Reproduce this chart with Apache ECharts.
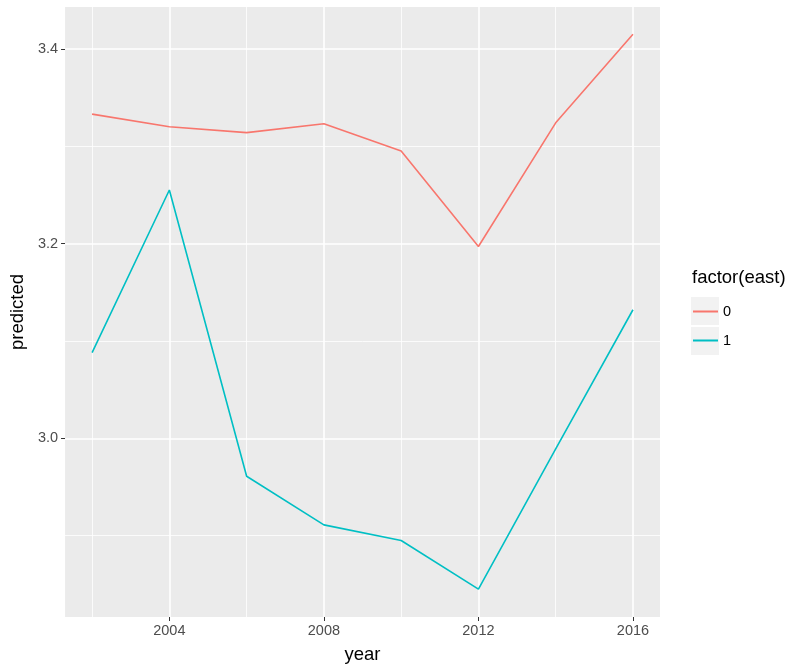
<!DOCTYPE html>
<html><head><meta charset="utf-8">
<script src="https://cdn.jsdelivr.net/npm/echarts@6/dist/echarts.min.js"></script>
<style>html,body{margin:0;padding:0;background:#fff}#c{width:802px;height:669px}</style>
</head><body><div id="c"></div>
<script>
const years = [2002, 2004, 2006, 2008, 2010, 2012, 2014, 2016];
const east0 = [3.333, 3.320, 3.314, 3.323, 3.295, 3.197, 3.324, 3.415];
const east1 = [3.088, 3.255, 2.961, 2.911, 2.895, 2.845, 2.989, 3.132];
const xMajor = [2004, 2008, 2012, 2016];
const xMinor = [2002, 2006, 2010, 2014];
const yMajor = [3.0, 3.2, 3.4];
const yMinor = [2.9, 3.1, 3.3];
const seriesNames = ['0', '1'];
const colors = ['#F8766D', '#00BFC4'];

const chart = echarts.init(document.getElementById('c'), null, {renderer: 'canvas'});
const font = 'Liberation Sans, Arial, sans-serif';
const gridLines = []
  .concat(xMinor.map(v => ({xAxis: v, lineStyle: {width: 0.8}})))
  .concat(yMinor.map(v => ({yAxis: v, lineStyle: {width: 0.8}})))
  .concat(xMajor.map(v => ({xAxis: v, lineStyle: {width: 1.6}})))
  .concat(yMajor.map(v => ({yAxis: v, lineStyle: {width: 1.6}})));

chart.setOption({
  animation: false,
  backgroundColor: '#ffffff',
  textStyle: {fontFamily: font},
  grid: {left: 62, right: 142, top: 7, bottom: 51, show: true, backgroundColor: '#EBEBEB', borderWidth: 0},
  xAxis: {
    type: 'value', min: 2001.3, max: 2016.7,
    name: 'year', nameLocation: 'middle', nameGap: 28,
    nameTextStyle: {fontSize: 18.5, color: '#000', fontFamily: font},
    axisLine: {show: false},
    axisTick: {show: true, length: 4, customValues: xMajor, lineStyle: {color: '#333', width: 1}},
    axisLabel: {customValues: xMajor, color: '#4D4D4D', fontSize: 14.5, margin: 6, fontFamily: font,
      formatter: v => String(v)},
    splitLine: {show: false}
  },
  yAxis: {
    type: 'value', min: 2.8164, max: 3.443,
    name: 'predicted', nameLocation: 'middle', nameGap: 38,
    nameTextStyle: {fontSize: 18.5, color: '#000', fontFamily: font},
    axisLine: {show: false},
    axisTick: {show: true, length: 4, customValues: yMajor, lineStyle: {color: '#333', width: 1}},
    axisLabel: {customValues: yMajor, color: '#4D4D4D', fontSize: 14.5, margin: 7, fontFamily: font,
      formatter: v => v.toFixed(1)},
    splitLine: {show: false}
  },
  legend: {
    data: seriesNames,
    orient: 'vertical', left: 693, top: 304, padding: 0,
    itemWidth: 25, itemHeight: 2, itemGap: 14, icon: 'rect',
    textStyle: {fontSize: 14.5, color: '#000', fontFamily: font},
    selectedMode: false
  },
  graphic: [
    {type: 'text', left: 692, top: 268, style: {text: 'factor(east)', fill: '#000', font: '18.5px ' + font}},
    {type: 'rect', left: 691, top: 297, z: -1, shape: {width: 28, height: 28}, style: {fill: '#F2F2F2'}},
    {type: 'rect', left: 691, top: 327, z: -1, shape: {width: 28, height: 28}, style: {fill: '#F2F2F2'}}
  ],
  series: [
    {type: 'line', name: '__grid', data: [], z: 1, silent: true,
      markLine: {silent: true, z: 1, symbol: 'none', label: {show: false}, animation: false,
        lineStyle: {color: '#ffffff', type: 'solid'}, emphasis: {disabled: true}, data: gridLines}},
    {type: 'line', name: seriesNames[0], z: 3, data: years.map((y, i) => [y, east0[i]]),
      showSymbol: false, symbol: 'none', lineStyle: {color: colors[0], width: 1.6}, itemStyle: {color: colors[0]}},
    {type: 'line', name: seriesNames[1], z: 3, data: years.map((y, i) => [y, east1[i]]),
      showSymbol: false, symbol: 'none', lineStyle: {color: colors[1], width: 1.6}, itemStyle: {color: colors[1]}}
  ]
});
</script></body></html>
